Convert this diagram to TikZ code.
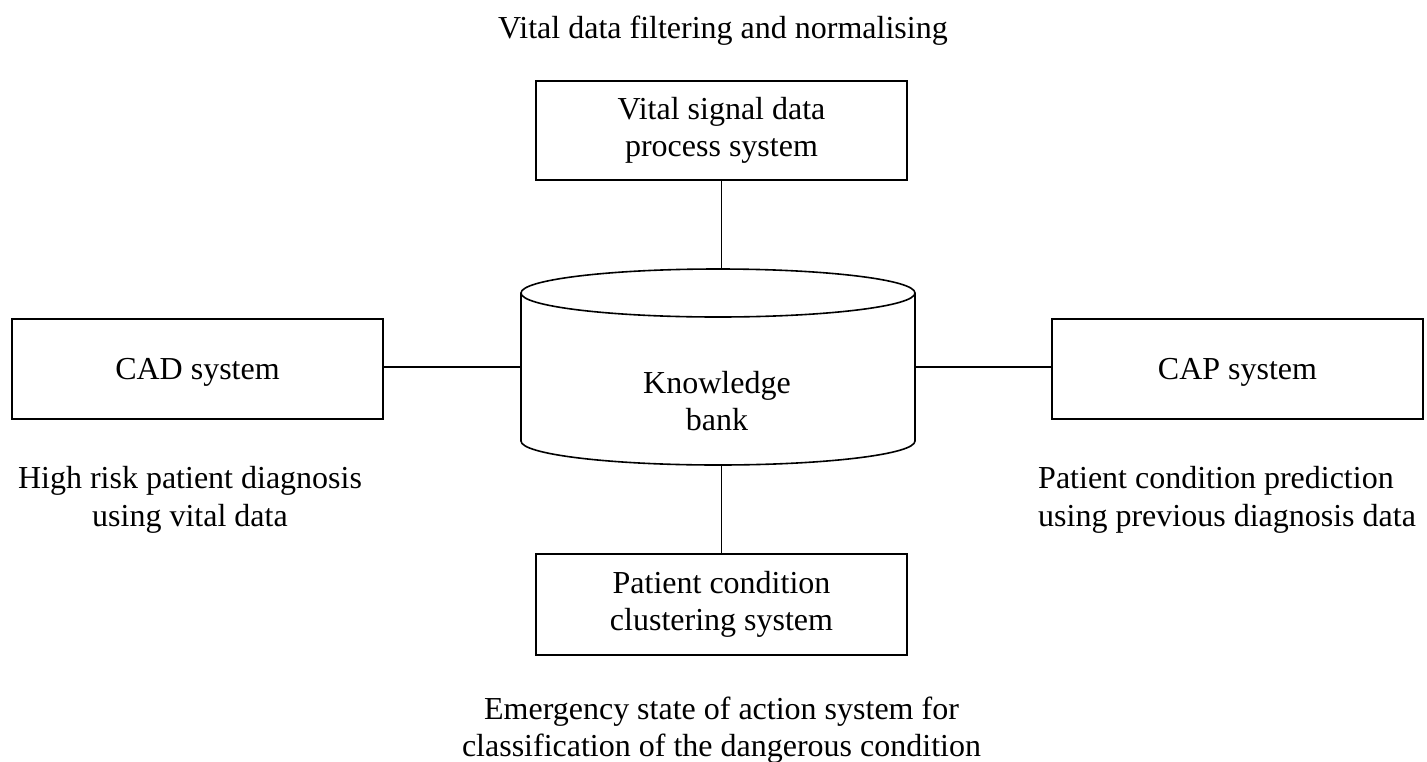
\documentclass[tikz,border=0pt]{standalone}
\usepackage{fontspec}
\setmainfont{Liberation Serif}
\begin{document}
\begin{tikzpicture}[x=1pt,y=1pt,
  every node/.style={inner sep=0pt, font=\fontsize{32}{37.5}\selectfont},
  sysbox/.style={draw, line width=1.6pt, minimum width=371pt, minimum height=99pt, align=center},
  link/.style={line width=1.6pt},
  caption/.style={align=center}]
  \useasboundingbox (0,0) rectangle (1427,-761);

  % title above the data process box
  \node[anchor=base] (title) at (723,-38) {Vital data filtering and normalising};

  % system boxes
  \node[sysbox] (vsp) at (721.5,-130.5) {Vital signal data\\process system};
  \node[sysbox, minimum height=100pt, text depth=0pt] (cad) at (197.5,-369) {CAD system};
  \node[sysbox, minimum height=100pt, text depth=0pt] (cap) at (1237.5,-369) {CAP system};
  \node[sysbox, minimum height=101pt] (pcc) at (721.5,-604.5) {Patient condition\\clustering system};

  % knowledge bank drawn as a cylinder
  \draw[link] (521,-293) -- (521,-441)
    arc[start angle=180, end angle=360, x radius=197, y radius=24] -- (915,-293);
  \draw[link] (718,-293) ellipse [x radius=197, y radius=24];
  \node[minimum width=394pt, minimum height=196pt] (kb) at (718,-367) {};
  \node[caption] (kbtext) at (717,-401) {Knowledge\\bank};

  % connectors
  \draw[link] (vsp.south) -- (vsp.south |- kb.north);
  \draw[link] (pcc.north |- kb.south) -- (pcc.north);
  \draw[link] (kb.west -| cad.east) -- (kb.west);
  \draw[link] (kb.east) -- (kb.east -| cap.west);

  % captions
  \node[caption] (cadtext) at (190,-500) {High risk patient diagnosis\\using vital data};
  \node[align=left, anchor=west] (captext) at (1038,-500) {Patient condition prediction\\using previous diagnosis data};
  \node[caption] (pcctext) at (721.5,-730) {Emergency state of action system for\\classification of the dangerous condition};
\end{tikzpicture}
\end{document}
